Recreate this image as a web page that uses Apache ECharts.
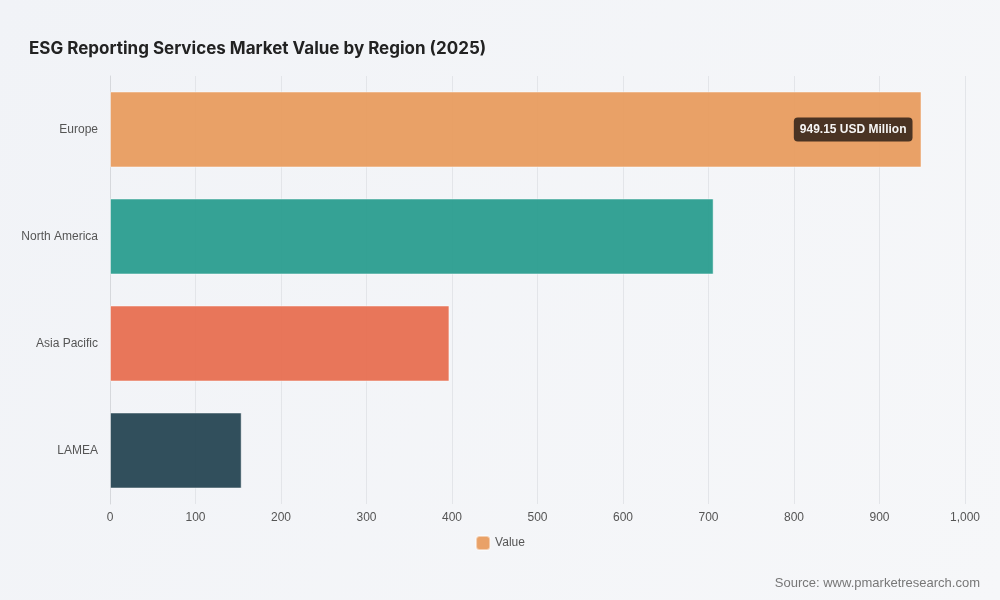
<!DOCTYPE html>
<html>
<head>
<meta charset="utf-8"/>
<title>ESG Reporting Services Market Value by Region</title>
<style>body,html{margin:0;width:100%;height:100%;background:#f3f5f8}#chart{width:1000px;height:600px}</style>
<script src="https://cdn.jsdelivr.net/npm/echarts@6/dist/echarts.min.js"></script>
</head>
<body>
<div id="chart"></div>
<script>
var regions = ["Europe", "North America", "Asia Pacific", "LAMEA"];
var values = [949.15, 706, 397, 154];
var colors = ["#e89c5f", "#2a9d8f", "#e76f51", "#264653"];

var chart = echarts.init(document.getElementById("chart"));
var data = values.map(function (v, i) {
  return {
    value: v,
    itemStyle: { color: colors[i] },
    label: i === 0 ? {
      show: true, position: "insideRight", offset: [-4, 0],
      formatter: "{c} USD Million", color: "#fff", fontWeight: "bold", fontSize: 12,
      backgroundColor: "rgba(50,35,25,0.92)", borderRadius: 4, padding: [6, 6]
    } : { show: false }
  };
});
chart.setOption({
  backgroundColor: new echarts.graphic.LinearGradient(0, 0, 1, 1, [
    { offset: 0, color: "#f1f3f7" }, { offset: 1, color: "#f6f7f9" }
  ]),
  title: {
    text: "ESG Reporting Services Market Value by Region (2025)",
    left: 24, top: 35,
    textStyle: { fontSize: 17, fontWeight: "bold", color: "#222", fontFamily: "Inter, Roboto, sans-serif" }
  },
  legend: {
    bottom: 44, left: "center", itemWidth: 14, itemHeight: 14,
    data: [{ name: "Value", itemStyle: { color: colors[0] } }],
    textStyle: { color: "#555", fontSize: 12 }
  },
  grid: { left: 110, right: 35, top: 76, bottom: 96 },
  xAxis: {
    type: "value", min: 0, max: 1000, interval: 100,
    axisLabel: { color: "#555", fontSize: 12 },
    splitLine: { lineStyle: { color: "#e3e5e9" } },
    axisLine: { show: false }
  },
  yAxis: {
    type: "category", data: regions, inverse: true,
    axisLabel: { color: "#555", fontSize: 12, margin: 12 },
    axisTick: { show: false },
    axisLine: { lineStyle: { color: "#d6d8dc" } }
  },
  series: [{
    name: "Value", type: "bar", data: data, barWidth: "71%",
    itemStyle: { opacity: 0.95, borderColor: "rgba(255,255,255,0.5)", borderWidth: 1 }
  }],
  graphic: [{
    type: "text", right: 20, bottom: 10,
    style: { text: "Source: www.pmarketresearch.com", fill: "#777", fontSize: 13 }
  }]
});
</script>
</body>
</html>
